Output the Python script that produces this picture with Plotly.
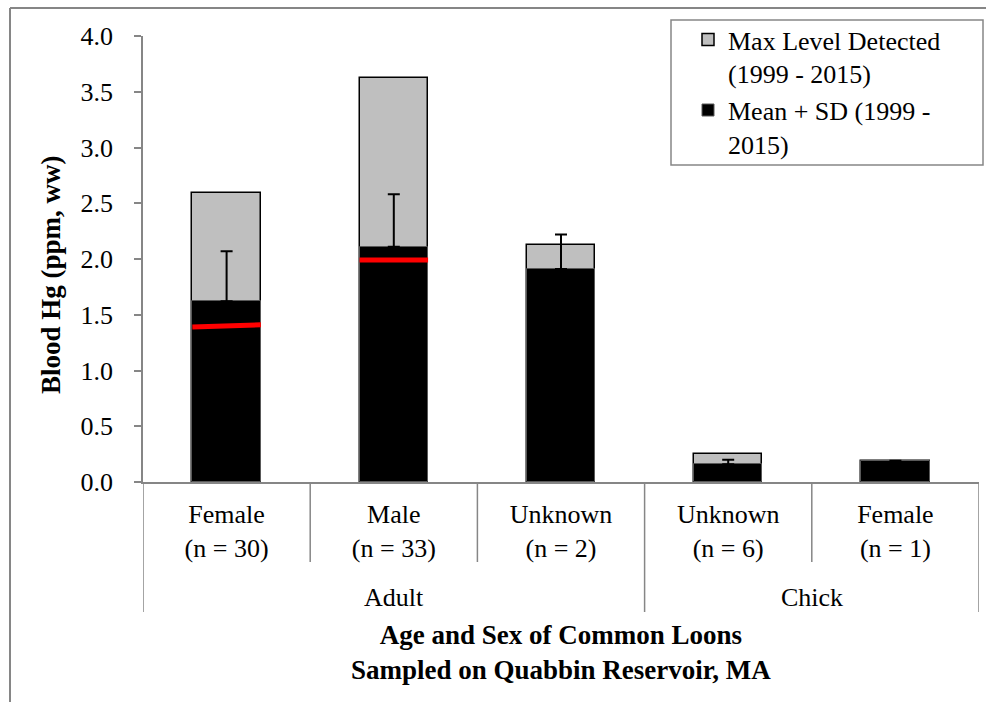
import plotly.graph_objects as go

# Blood mercury in Common Loons, Quabbin Reservoir (1999 - 2015)
age_groups = ["Adult", "Adult", "Adult", "Chick", "Chick"]
sexes = ["Female", "Male", "Unknown", "Unknown", "Female"]
sample_sizes = [30, 33, 2, 6, 1]
max_level = [2.59, 3.62, 2.13, 0.25, 0.19]
mean_level = [1.62, 2.11, 1.91, 0.16, 0.19]
sd_level = [0.45, 0.47, 0.31, 0.04, None]
# red reference marks drawn across the adult female / male bars (left, right ends)
red_left = [1.39, 1.99, None, None, None]
red_right = [1.41, 1.99, None, None, None]
y_ticks = [0.0, 0.5, 1.0, 1.5, 2.0, 2.5, 3.0, 3.5, 4.0]

FONT = "Liberation Serif"
AXIS_GREY = "#868686"
W, H = 986, 702
ML, MR, MT, MB = 143, 7, 36, 220
PW, PH = W - ML - MR, H - MT - MB
BAR_W = 0.41


def px_x(px):
    return (px - ML) / PW


def px_y(py):
    return (H - MB - py) / PH


idx = list(range(len(sexes)))
tick_text = [f"{s}<br>(n = {n})" for s, n in zip(sexes, sample_sizes)]

fig = go.Figure()
fig.add_trace(go.Bar(
    x=idx, y=max_level, width=BAR_W, name="Max Level Detected<br>(1999 - 2015)",
    marker=dict(color="#BFBFBF", line=dict(color="#000000", width=1.5)),
))
fig.add_trace(go.Bar(
    x=idx, y=mean_level, width=BAR_W, name="Mean + SD (1999 -<br>2015)",
    marker=dict(color="#000000", line=dict(color="#595959", width=1)),
    error_y=dict(type="data", symmetric=False, array=sd_level,
                 arrayminus=[0] * len(idx), color="#000000", thickness=2, width=6),
))
for i, (yl, yr) in enumerate(zip(red_left, red_right)):
    if yl is None:
        continue
    fig.add_trace(go.Scatter(
        x=[i - BAR_W / 2, i + BAR_W / 2], y=[yl, yr], mode="lines",
        line=dict(color="#FF0000", width=5), showlegend=False, hoverinfo="skip",
    ))

shapes = []
# category boundary lines under the axis
group_breaks = {-0.5, len(idx) - 0.5}
for i in range(1, len(idx)):
    if age_groups[i] != age_groups[i - 1]:
        group_breaks.add(i - 0.5)
for b in [i - 0.5 for i in range(len(idx) + 1)]:
    bottom = px_y(612) if b in group_breaks else px_y(562)
    shapes.append(dict(type="line", xref="x", yref="paper", x0=b, x1=b, y0=0, y1=bottom,
                       line=dict(color=AXIS_GREY, width=1.5)))
# outer frame (top and left edges)
shapes.append(dict(type="line", xref="paper", yref="paper", x0=px_x(10), x1=px_x(990),
                   y0=px_y(8), y1=px_y(8), line=dict(color=AXIS_GREY, width=2)))
shapes.append(dict(type="line", xref="paper", yref="paper", x0=px_x(10), x1=px_x(10),
                   y0=px_y(8), y1=px_y(705), line=dict(color=AXIS_GREY, width=2)))
# legend frame
shapes.append(dict(type="rect", xref="paper", yref="paper", x0=px_x(671), x1=px_x(983),
                   y0=px_y(165), y1=px_y(20), fillcolor="white",
                   line=dict(color=AXIS_GREY, width=1.5), layer="above"))

annotations = []
# age group labels
seen = []
for g in age_groups:
    if g not in seen:
        seen.append(g)
for g in seen:
    members = [i for i, a in enumerate(age_groups) if a == g]
    annotations.append(dict(x=sum(members) / len(members), xref="x", y=px_y(597), yref="paper",
                            text=g, showarrow=False, yanchor="middle",
                            font=dict(family=FONT, size=26, color="black")))
annotations.append(dict(x=0.5, xref="paper", y=px_y(652), yref="paper",
                        text="<b>Age and Sex of Common Loons<br>Sampled on Quabbin Reservoir, MA</b>",
                        showarrow=False, yanchor="middle",
                        font=dict(family=FONT, size=27, color="black")))
annotations.append(dict(x=px_x(51), xref="paper", y=px_y(275), yref="paper",
                        text="<b>Blood Hg (ppm, ww)</b>", textangle=-90, showarrow=False,
                        xanchor="center", yanchor="middle",
                        font=dict(family=FONT, size=27, color="black")))

fig.update_layout(
    width=W, height=H, margin=dict(l=ML, r=MR, t=MT, b=MB),
    paper_bgcolor="white", plot_bgcolor="white",
    barmode="overlay", bargap=0,
    font=dict(family=FONT, size=26, color="black"),
    showlegend=True,
    legend=dict(x=px_x(688), y=px_y(16), xanchor="left", yanchor="top",
                bgcolor="rgba(0,0,0,0)", borderwidth=0, valign="top",
                font=dict(family=FONT, size=26, color="black"), traceorder="normal"),
    xaxis=dict(range=[-0.5, len(idx) - 0.5], tickvals=idx, ticktext=tick_text,
               showline=True, linecolor=AXIS_GREY, linewidth=1.5, ticks="",
               ticklabelstandoff=8,
               showgrid=False, zeroline=False, fixedrange=True,
               tickfont=dict(family=FONT, size=26, color="black")),
    yaxis=dict(range=[0, 4], tickvals=y_ticks, ticktext=[f"{v:.1f}" for v in y_ticks],
               showline=True, linecolor=AXIS_GREY, linewidth=1.5,
               ticks="outside", ticklen=7, tickcolor=AXIS_GREY, tickwidth=1.5,
               ticklabelstandoff=16, showgrid=False, zeroline=False,
               tickfont=dict(family=FONT, size=26, color="black")),
    shapes=shapes, annotations=annotations,
)

fig.write_html("out.html")
